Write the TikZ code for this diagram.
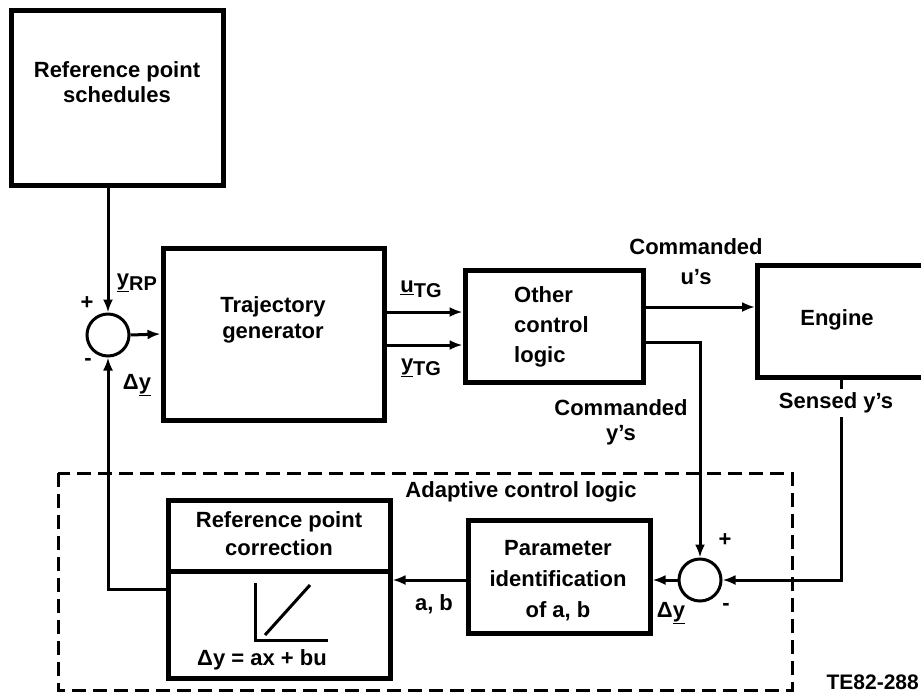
\documentclass[tikz,border=0pt]{standalone}
\usepackage{fontspec}
\setmainfont{Liberation Sans}
\usetikzlibrary{arrows.meta}
\newcommand\lowsub[1]{\raisebox{-0.45ex}{\fontsize{20}{20}\selectfont\bfseries #1}}
\begin{document}
\begin{tikzpicture}[x=1pt,y=-1pt,
  every node/.style={font=\fontsize{22}{27}\selectfont\bfseries, inner sep=0pt},
  blk/.style={draw, line width=5pt, rectangle},
  sumc/.style={draw, circle, line width=3pt, minimum size=42pt},
  conn/.style={line width=3pt},
  arr/.style={conn, -{Latex[length=13pt,width=10pt]}},
  lbl/.style={align=center},
  dashbox/.style={line width=3pt, dash pattern=on 14pt off 7pt}]
\clip (0,0) rectangle (921,697);
% blocks
\node[blk, minimum width=212pt, minimum height=175pt] (rps) at (117.5,97.5) {};
\node[lbl, font=\fontsize{22}{25}\selectfont\bfseries] (rpst) at (117,82) {Reference point\\schedules};
\node[sumc] (s1) at (108,335) {};
\node[blk, minimum width=221pt, minimum height=172pt] (trj) at (273.5,334) {};
\node[lbl, font=\fontsize{22}{26}\selectfont\bfseries] (trjt) at (273,320) {Trajectory\\generator};
\node[blk, minimum width=178pt, minimum height=112pt] (ocl) at (554,326) {};
\node[align=left, anchor=west, font=\fontsize{22}{30}\selectfont\bfseries] (oclt) at (514,327) {Other\\control\\logic};
\node[blk, minimum width=180pt, minimum height=112pt, anchor=west] (eng) at (755,321) {};
\node (engt) at (837,320) {Engine};
\node[sumc] (s2) at (700,580) {};
\node[blk, minimum width=182pt, minimum height=113pt] (par) at (559,576.5) {};
\node[lbl, font=\fontsize{22}{31}\selectfont\bfseries] (part) at (558,581) {Parameter\\identification\\of a, b};
\node[blk, minimum width=222pt, minimum height=178pt] (rpc) at (279,589) {};
\coordinate (divy) at (0,571);
\draw[line width=5pt] (rpc.west |- divy) -- (rpc.east |- divy);
\node[lbl, font=\fontsize{22}{28}\selectfont\bfseries] (rpct) at (279,534) {Reference point\\correction};
\coordinate (pa) at (255,583);
\coordinate (po) at (255,640);
\coordinate (px) at (328,640);
\coordinate (d1) at (265,635);
\coordinate (d2) at (310,585);
\draw[line width=3pt] (pa) -- (po) -- (px);
\draw[line width=3pt] (d1) -- (d2);
\node (eqn) at (262,660) {Δy = ax + bu};
% dashed region
\draw[dashbox] (58,473) rectangle (792,690);
% connectors
\coordinate (yu) at (0,312);
\coordinate (yy) at (0,345);
\coordinate (cuy) at (0,307);
\coordinate (cyy) at (0,342);
\coordinate (syx) at (841,0);
\coordinate (fby) at (0,589);
\draw[arr] (s1.north |- rps.south) -- (s1.north);
\draw[arr] (s1.east) -- (trj.west);
\draw[arr] (trj.east |- yu) -- (ocl.west |- yu);
\draw[arr] (trj.east |- yy) -- (ocl.west |- yy);
\draw[arr] (ocl.east |- cuy) -- (eng.west |- cuy);
\draw[arr] (ocl.east |- cyy) -| (s2.north);
\draw[arr] (eng.south -| syx) |- (s2.east);
\draw[arr] (s2.west) -- (par.east |- s2.west);
\draw[arr] (par.west |- s2.west) -- (rpc.east |- s2.west);
\draw[arr] (rpc.west |- fby) -| (s1.south);
% labels
\node (p1) at (87,303) {+};
\node (m1) at (88,362) {-};
\node (yrp) at (137,283) {\underline{y}\lowsub{RP}};
\node (dy1) at (137,385) {Δ\underline{y}};
\node (utg) at (421,289) {\underline{u}\lowsub{TG}};
\node (ytg) at (421,368) {\underline{y}\lowsub{TG}};
\node[lbl, font=\fontsize{22}{30}\selectfont\bfseries] (cu) at (696,262) {Commanded\\u's};
\node[lbl, font=\fontsize{22}{25}\selectfont\bfseries] (cy) at (621,422) {Commanded\\y's};
\node[fill=white, inner ysep=4pt, inner xsep=2pt] (sy) at (836,403) {Sensed y's};
\node (acl) at (521,492) {Adaptive control logic};
\node (ab) at (434,604) {a, b};
\node (dy2) at (671,613) {Δ\underline{y}};
\node (p2) at (725,540) {+};
\node (m2) at (726,607) {-};
\node[anchor=east, font=\fontsize{21}{21}\selectfont\bfseries] (te) at (919,682) {TE82-288};
\end{tikzpicture}
\end{document}
